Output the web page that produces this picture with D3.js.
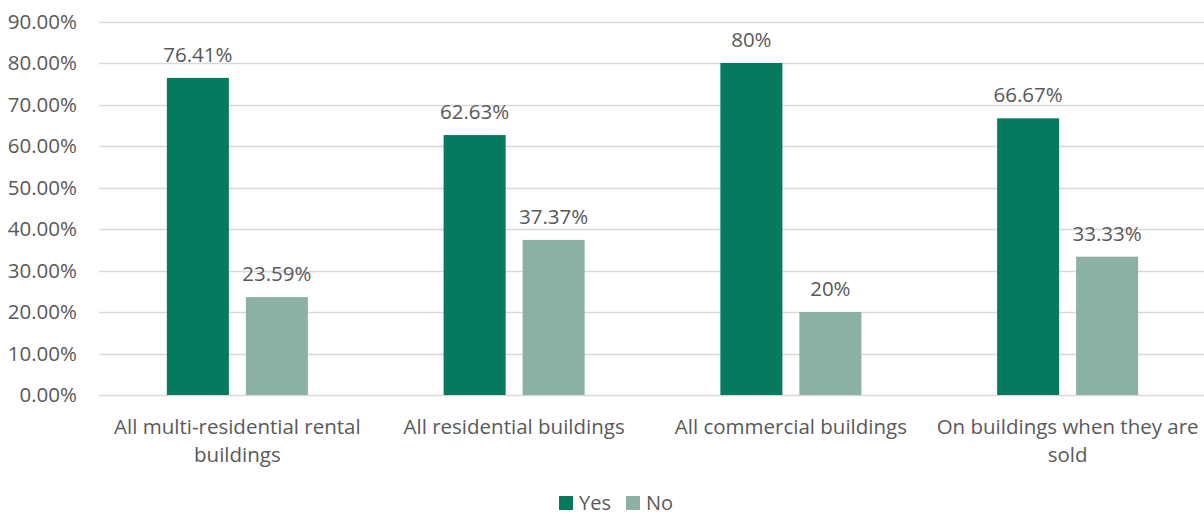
<!DOCTYPE html>
<html>
<head>
<meta charset="utf-8">
<script src="https://cdn.jsdelivr.net/npm/d3@7"></script>
<style>
  html, body { margin: 0; padding: 0; background: #fff; }
  svg { display: block; }
  text { font-family: "Open Sans", "Liberation Sans", sans-serif; fill: #595959; }
</style>
</head>
<body>
<svg id="chart" width="1204" height="516"></svg>
<script>
// Survey responses: should energy disclosure be required?
const categories = [
  ["All multi-residential rental", "buildings"],
  ["All residential buildings"],
  ["All commercial buildings"],
  ["On buildings when they are", "sold"]
];
const seriesNames = ["Yes", "No"];
const yesValues = [76.41, 62.63, 80, 66.67];
const noValues = [23.59, 37.37, 20, 33.33];
const yesLabels = ["76.41%", "62.63%", "80%", "66.67%"];
const noLabels = ["23.59%", "37.37%", "20%", "33.33%"];
const yTicks = [0, 10, 20, 30, 40, 50, 60, 70, 80, 90];

const colors = { Yes: "#057A5F", No: "#8BB1A5" };
const fontSize = 20.5;

const svg = d3.select("#chart");
const plotLeft = 99, plotRight = 1206, plotTop = 21.5, plotBottom = 395;

const x0 = d3.scaleBand()
  .domain(d3.range(categories.length))
  .range([plotLeft, plotRight])
  .paddingInner(0.4905).paddingOuter(0.24525);
const x1 = d3.scaleBand()
  .domain(seriesNames)
  .range([0, x0.bandwidth()])
  .paddingInner(0.215);
const y = d3.scaleLinear().domain([0, 90]).range([plotBottom, plotTop]);

// gridlines
svg.append("g")
  .selectAll("line")
  .data(yTicks)
  .join("line")
  .attr("x1", plotLeft).attr("x2", plotRight)
  .attr("y1", d => Math.round(y(d)) + 0.5).attr("y2", d => Math.round(y(d)) + 0.5)
  .attr("stroke", "#d9d9d9").attr("stroke-width", 1.3);

// y axis labels
const yAxis = d3.axisLeft(y).tickValues(yTicks).tickSize(0).tickPadding(0)
  .tickFormat(d => d.toFixed(2) + "%");
const gy = svg.append("g").attr("transform", `translate(77,0)`).call(yAxis);
gy.select(".domain").remove();
gy.selectAll("text").attr("font-size", fontSize).attr("font-family", null).attr("fill", "#595959");

// bars
const rows = categories.map((c, i) => ({
  i,
  vals: [
    { s: "Yes", v: yesValues[i], label: yesLabels[i] },
    { s: "No", v: noValues[i], label: noLabels[i] }
  ]
}));

const groups = svg.append("g").selectAll("g")
  .data(rows)
  .join("g")
  .attr("transform", d => `translate(${x0(d.i)},0)`);

groups.selectAll("rect")
  .data(d => d.vals)
  .join("rect")
  .attr("x", d => x1(d.s))
  .attr("width", x1.bandwidth())
  .attr("y", d => y(d.v))
  .attr("height", d => y(0) - y(d.v))
  .attr("fill", d => colors[d.s]);

groups.selectAll("text.val")
  .data(d => d.vals)
  .join("text")
  .attr("class", "val")
  .attr("x", d => x1(d.s) + x1.bandwidth() / 2)
  .attr("y", d => y(d.v) - 16)
  .attr("text-anchor", "middle")
  .attr("font-size", fontSize)
  .text(d => d.label);

// category labels
const catG = svg.append("g").selectAll("text")
  .data(categories)
  .join("text")
  .attr("text-anchor", "middle")
  .attr("font-size", fontSize)
  .attr("transform", (d, i) => `translate(${x0(i) + x0.bandwidth() / 2},434)`);
catG.selectAll("tspan")
  .data(d => d)
  .join("tspan")
  .attr("x", 0)
  .attr("dy", (d, j) => j === 0 ? 0 : 28)
  .text(d => d);

// legend
const legend = svg.append("g").attr("transform", "translate(559,496)");
const items = legend.selectAll("g")
  .data(seriesNames)
  .join("g")
  .attr("transform", (d, i) => `translate(${i * 67},0)`);
items.append("rect").attr("y", 0).attr("width", 14).attr("height", 14).attr("fill", d => colors[d]);
items.append("text").attr("x", 20).attr("y", 14).attr("font-size", 20).text(d => d);
</script>
</body>
</html>
